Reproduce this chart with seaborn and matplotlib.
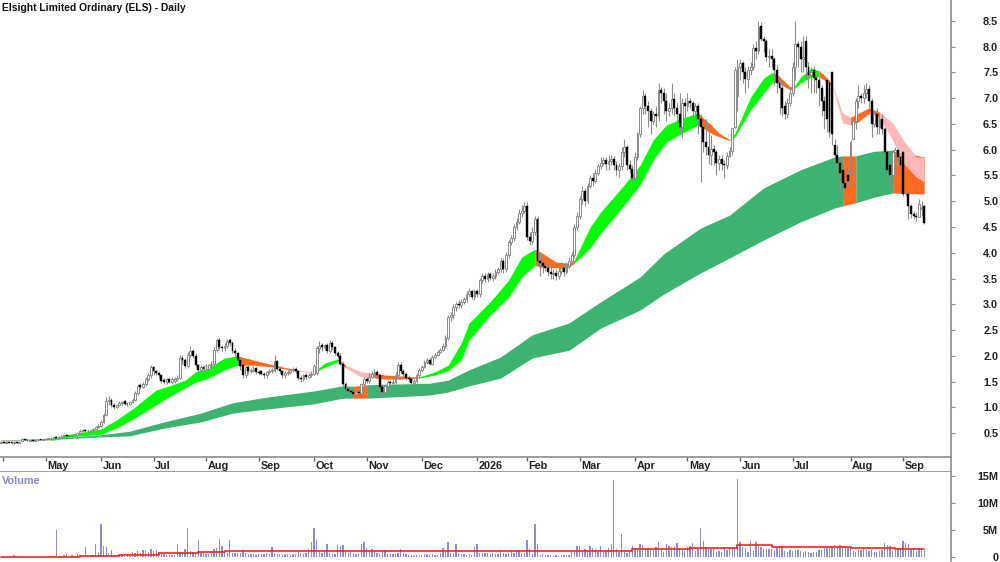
import numpy as np
import pandas as pd
import matplotlib
matplotlib.use("Agg")
import matplotlib.pyplot as plt
import seaborn as sns

opens = [
.32,.33,.32,.33,.33,.31,.33,.32,.34,.38, .37,.35,.36,.35,.36,.38,.37,.38,.39,.40,
.41,.43,.41,.43,.45,.46,.45,.44,.46,.47, .51,.54,.57,.55,.54,.56,.58,.62,.65,.72,
.86,1.12,1.15,1.05,1.00,1.04,1.08,1.12,1.07,1.06, 1.10,1.15,1.28,1.44,1.40,1.46,1.55,1.62,1.78,1.70,
1.66,1.62,1.54,1.50,1.55,1.50,1.52,1.56,1.58,1.96, 1.92,1.80,2.02,2.10,2.00,1.82,1.72,1.78,1.80,1.75,
1.82,1.85,2.12,2.30,2.18,2.15,2.20,2.30,2.25,2.10, 2.05,1.92,1.82,1.62,1.78,1.70,1.72,1.76,1.68,1.70,
1.65,1.62,1.68,1.70,1.72,1.90,1.75,1.70,1.62,1.66, 1.68,1.72,1.75,1.70,1.58,1.55,1.62,1.60,1.62,1.65,
1.66,2.15,2.22,2.18,2.22,2.10,2.25,2.18,2.05,2.00, 1.85,1.45,1.35,1.32,1.30,1.26,1.30,1.28,1.45,1.55,
1.52,1.60,1.65,1.68,1.62,1.40,1.30,1.42,1.50,1.48, 1.50,1.62,1.82,1.70,1.65,1.58,1.55,1.48,1.52,1.62,
1.72,1.78,1.88,1.92,1.85,1.98,2.02,2.08,2.12,2.20, 2.35,2.75,2.80,2.95,3.00,2.98,3.05,3.10,3.20,3.25,
3.15,3.25,3.20,3.48,3.55,3.50,3.58,3.52,3.55,3.62, 3.68,3.85,3.68,3.95,4.20,4.28,4.50,4.60,4.78,4.82,
4.90,4.30,4.22,4.40,4.65,3.85,3.80,3.75,3.70,3.62, 3.58,3.60,3.55,3.65,3.70,3.62,3.75,3.85,3.95,4.50,
4.72,5.05,5.20,5.00,5.30,5.45,5.40,5.55,5.68,5.75, 5.80,5.72,5.78,5.82,5.70,5.60,5.68,5.95,6.05,5.70,
5.62,5.45,5.85,6.30,6.80,7.05,6.85,6.75,6.55,6.70, 6.65,7.15,7.10,6.95,6.75,6.80,6.98,6.80,6.70,6.45,
6.90,6.85,6.95,6.90,6.75,6.85,6.60,6.45,6.15,6.05, 5.90,6.02,5.95,5.75,5.82,5.72,5.70,5.88,5.98,6.45,
7.05,7.60,7.68,7.50,7.38,7.55,7.60,7.97,7.92,8.40, 8.15,8.10,7.80,7.82,7.75,7.55,7.30,7.20,6.85,6.70,
6.90,7.10,7.60,8.05,8.00,7.75,8.10,7.60,7.45,7.55, 7.40,7.35,7.20,6.95,7.35,7.30,7.50,6.10,5.90,5.75,
5.60,5.35,5.50,5.50,6.20,6.55,6.95,7.05,7.00,7.10, 7.18,6.95,6.50,6.70,6.45,6.60,6.40,5.95,5.70,5.50,
5.95,6.00,5.85,5.95,5.15,5.15,4.90,4.75,4.72,4.70,4.85,4.90]
closes = [
.33,.32,.33,.32,.31,.33,.32,.33,.38,.37, .36,.36,.35,.36,.37,.37,.38,.39,.40,.41,
.42,.41,.43,.45,.46,.45,.44,.46,.47,.50, .55,.56,.55,.54,.56,.58,.62,.65,.72,.85,
1.12,1.15,1.05,1.00,1.04,1.08,1.10,1.07,1.06,1.10, 1.15,1.28,1.42,1.40,1.46,1.55,1.62,1.78,1.70,1.66,
1.62,1.52,1.50,1.55,1.50,1.55,1.56,1.58,1.95,1.92, 1.80,2.02,2.10,2.00,1.82,1.72,1.78,1.75,1.80,1.82,
1.85,2.12,2.30,2.18,2.15,2.20,2.28,2.25,2.10,2.05, 1.92,1.80,1.62,1.78,1.70,1.72,1.75,1.68,1.66,1.65,
1.62,1.68,1.70,1.72,1.90,1.75,1.70,1.62,1.66,1.68, 1.72,1.75,1.70,1.58,1.55,1.62,1.60,1.62,1.65,1.80,
2.15,2.20,2.18,2.22,2.10,2.25,2.18,2.05,2.00,1.85, 1.45,1.35,1.32,1.30,1.26,1.30,1.28,1.45,1.55,1.52,
1.60,1.65,1.68,1.62,1.40,1.30,1.42,1.50,1.48,1.50, 1.62,1.82,1.70,1.65,1.58,1.55,1.48,1.52,1.62,1.72,
1.78,1.88,1.92,1.85,1.98,2.02,2.08,2.12,2.20,2.35, 2.75,2.80,2.95,3.00,2.98,3.05,3.10,3.20,3.25,3.15,
3.25,3.20,3.48,3.55,3.50,3.58,3.52,3.55,3.62,3.68, 3.85,3.68,3.95,4.20,4.28,4.50,4.60,4.78,4.82,4.90,
4.30,4.22,4.40,4.65,3.85,3.80,3.75,3.70,3.62,3.58, 3.60,3.55,3.65,3.70,3.62,3.75,3.85,3.95,4.50,4.72,
5.05,5.20,5.00,5.30,5.45,5.40,5.55,5.68,5.75,5.80, 5.72,5.78,5.82,5.70,5.60,5.68,5.95,6.05,5.70,5.62,
5.45,5.85,6.30,6.80,7.05,6.85,6.75,6.55,6.70,6.65, 7.15,7.10,6.95,6.75,6.80,6.98,6.80,6.70,6.45,6.90,
6.85,6.95,6.90,6.75,6.85,6.60,6.45,6.15,6.05,5.90, 6.02,5.95,5.75,5.82,5.72,5.70,5.88,5.98,6.42,7.55,
7.60,7.68,7.50,7.38,7.55,7.60,7.97,7.92,8.38,8.15, 8.10,7.80,7.82,7.75,7.55,7.30,7.20,6.80,6.70,6.90,
7.10,7.60,8.05,8.00,7.75,7.80,7.60,7.45,7.50,7.40, 7.35,7.20,6.95,6.75,6.60,6.35,6.30,5.90,5.75,5.55,
5.35,5.25,5.40,6.15,6.55,6.95,7.05,7.00,7.10,7.18, 6.95,6.50,6.70,6.45,6.60,6.40,5.95,5.60,5.50,5.95,
6.00,5.85,5.70,5.15,5.15,4.90,4.75,4.72,4.70,4.95,4.88,4.58]
highs = [
.34,.34,.34,.34,.34,.34,.34,.34,.40,.40, .38,.37,.37,.37,.38,.39,.39,.40,.41,.42,
.43,.44,.44,.46,.47,.47,.46,.47,.49,.52, .58,.58,.58,.56,.57,.60,.64,.68,.75,.90,
1.20,1.22,1.18,1.08,1.07,1.12,1.13,1.14,1.10,1.13, 1.18,1.32,1.46,1.48,1.50,1.60,1.66,1.82,1.80,1.72,
1.68,1.65,1.58,1.58,1.58,1.60,1.60,1.62,2.02,2.02, 1.95,2.08,2.20,2.14,2.05,1.85,1.82,1.82,1.84,1.85,
1.90,2.18,2.35,2.34,2.22,2.25,2.32,2.34,2.28,2.15, 2.08,1.95,1.85,1.82,1.82,1.76,1.80,1.78,1.72,1.72,
1.68,1.70,1.74,1.76,2.02,1.92,1.80,1.72,1.70,1.72, 1.75,1.78,1.78,1.72,1.62,1.65,1.66,1.66,1.70,1.85,
2.20,2.28,2.26,2.24,2.26,2.30,2.28,2.20,2.10,2.05, 1.90,1.50,1.40,1.36,1.34,1.34,1.34,1.48,1.60,1.60,
1.66,1.70,1.74,1.72,1.65,1.45,1.46,1.54,1.54,1.55, 1.68,1.88,1.88,1.74,1.68,1.62,1.60,1.56,1.66,1.76,
1.82,1.92,1.96,1.96,2.02,2.06,2.12,2.16,2.25,2.40, 2.80,2.86,3.00,3.05,3.08,3.10,3.15,3.25,3.32,3.28,
3.30,3.30,3.52,3.60,3.60,3.62,3.62,3.60,3.68,3.72, 3.90,3.90,4.02,4.25,4.35,4.55,4.68,4.85,4.92,4.98,
4.98,4.40,4.50,4.72,4.72,4.00,3.95,3.85,3.80,3.72, 3.68,3.68,3.72,3.78,3.78,3.82,3.92,4.02,4.55,4.80,
5.10,5.30,5.26,5.36,5.50,5.55,5.62,5.72,5.85,5.85, 5.85,5.90,5.90,5.88,5.78,5.75,6.05,6.20,6.10,5.80,
5.70,5.95,6.35,6.85,7.15,7.10,6.95,6.80,6.75,6.85, 7.30,7.22,7.20,7.10,6.90,7.30,7.10,6.90,7.10,7.00,
7.00,7.10,7.00,6.95,6.90,6.90,6.70,6.50,6.60,6.40, 6.28,6.10,6.00,5.90,5.90,5.80,5.95,6.05,6.10,7.60,
7.75,7.75,7.72,7.60,7.62,7.70,8.05,8.10,8.50,8.48, 8.20,8.15,7.95,7.95,7.80,7.65,7.40,7.30,6.95,7.00,
7.20,7.70,8.50,8.10,8.10,8.20,8.20,7.70,7.60,7.62, 7.45,7.40,7.25,7.05,7.40,7.35,7.50,6.20,6.10,5.85,
5.70,5.50,5.60,6.18,6.60,7.00,7.25,7.10,7.25,7.30, 7.25,7.00,6.75,6.80,6.70,6.70,6.45,6.00,5.75,6.00,
6.05,6.02,5.90,5.98,5.20,5.18,4.95,4.82,4.80,5.05,5.00,4.92]
lows = [
.31,.31,.31,.31,.30,.30,.31,.31,.33,.36, .35,.34,.34,.34,.35,.36,.36,.37,.38,.39,
.40,.40,.40,.42,.44,.44,.43,.43,.45,.46, .50,.52,.53,.52,.52,.54,.56,.60,.63,.70,
.84,1.05,1.00,.97,.98,1.02,1.05,1.04,1.03,1.04, 1.08,1.12,1.25,1.36,1.38,1.42,1.52,1.58,1.62,1.62,
1.58,1.48,1.45,1.46,1.48,1.46,1.48,1.52,1.55,1.85, 1.76,1.76,1.98,1.96,1.78,1.68,1.68,1.70,1.72,1.72,
1.78,1.82,2.08,2.12,2.10,2.10,2.15,2.20,2.05,2.00, 1.88,1.72,1.58,1.58,1.65,1.66,1.68,1.64,1.62,1.62,
1.58,1.58,1.64,1.66,1.68,1.72,1.66,1.58,1.58,1.62, 1.65,1.68,1.66,1.54,1.50,1.52,1.56,1.58,1.60,1.62,
1.62,2.05,2.10,2.12,2.05,2.05,2.12,2.02,1.95,1.82, 1.42,1.30,1.28,1.22,1.22,1.24,1.18,1.26,1.42,1.48,
1.48,1.58,1.60,1.60,1.36,1.22,1.28,1.40,1.44,1.44, 1.46,1.58,1.66,1.60,1.54,1.50,1.44,1.44,1.48,1.58,
1.68,1.76,1.84,1.82,1.82,1.95,2.00,2.05,2.10,2.15, 2.30,2.68,2.72,2.88,2.92,2.92,3.00,3.05,3.15,3.10,
3.08,3.15,3.15,3.42,3.44,3.44,3.48,3.45,3.50,3.58, 3.62,3.60,3.62,3.90,4.15,4.22,4.45,4.55,4.70,4.78,
4.25,4.15,4.18,4.35,3.75,3.55,3.60,3.65,3.55,3.50, 3.50,3.48,3.50,3.58,3.55,3.58,3.70,3.80,3.90,4.45,
4.65,4.95,4.90,4.95,5.25,5.30,5.35,5.50,5.62,5.70, 5.60,5.60,5.70,5.60,5.50,5.48,5.60,5.85,5.60,5.55,
5.40,5.40,5.80,6.25,6.70,6.70,6.45,6.30,6.50,6.45, 6.55,6.90,6.70,6.55,6.65,6.70,6.65,6.50,6.35,6.22,
6.60,6.75,6.80,6.50,6.60,6.30,5.38,5.95,5.90,5.72, 5.70,5.70,5.50,5.60,5.60,5.45,5.62,5.85,5.90,6.42,
6.75,7.35,7.30,7.10,7.20,7.45,7.55,7.75,7.85,8.10, 7.90,7.72,7.60,7.60,7.25,7.10,6.70,6.65,6.60,6.62,
6.85,7.05,7.35,7.60,7.50,7.50,7.40,7.20,7.10,7.10, 7.10,6.85,6.65,6.40,6.35,6.25,6.10,5.60,5.50,5.20,
5.05,5.15,5.30,5.35,6.20,6.40,6.80,6.90,6.90,7.00, 6.80,6.25,6.45,6.30,6.30,6.30,5.85,5.50,5.25,5.35,
5.75,5.70,5.45,5.10,5.10,4.65,4.68,4.65,4.62,4.70,4.72,4.55]
volume = [
.1,.15,.1,.05,.2,.5,.2,.1,.1,.1, .1,.05,.1,.1,.05,.1,.15,.1,.1,.2,
.3,5.0,.3,.2,.4,.6,.3,.5,.3,.6, .4,.3,1.9,.4,.3,.5,2.5,.8,6.2,2.1,
1.9,.8,1.4,.5,.4,.5,.3,.4,.4,.3, 1.0,.8,1.2,.9,1.3,1.4,1.1,1.5,1.2,1.4,
1.0,.8,.7,.5,.6,.4,.5,2.5,1.1,1.0, 1.5,5.4,1.2,1.0,.9,3.2,.9,.8,.7,.7,
.8,1.5,1.8,3.5,2.2,1.0,.8,3.2,.9,.8, .9,.8,1.3,.8,.7,.7,.6,.5,.6,.6,
.7,.9,.6,2.0,.8,.7,.6,.5,.7,.6, .5,.7,.6,1.2,.8,.7,.8,1.5,2.9,5.5,
3.3,1.0,.9,1.4,2.5,.9,.7,.6,2.3,2.2, 2.3,1.3,.9,1.0,.8,.7,.6,2.5,2.8,1.8,
1.2,1.5,1.4,.9,.7,1.0,1.3,.7,.6,.6, .7,.8,1.5,.8,.6,.5,.4,.3,.4,.4,
.4,.6,.7,.5,.6,.4,.5,.8,1.7,1.0, 2.8,.9,.7,2.5,.8,.6,.6,.5,.6,.5,
2.0,2.5,.8,.8,.9,.9,.7,.9,.6,.7, 1.3,.8,.7,.8,1.3,.9,1.2,1.2,.6,.8,
3.3,1.5,.7,6.2,2.5,.5,.6,.4,.5,.4, .3,.5,.3,.5,.4,.4,.5,1.0,1.0,2.1,
2.1,1.0,1.5,1.2,2.1,1.8,1.5,1.0,2.1,1.1, 1.2,1.8,2.5,14.3,1.5,1.0,4.3,1.1,.9,1.2,
2.1,1.8,1.6,2.5,2.4,1.8,1.7,1.6,1.4,1.9, 2.9,1.5,1.1,2.5,2.2,2.0,2.0,2.7,1.6,1.4,
1.2,2.0,2.1,2.6,1.2,1.6,5.5,3.0,1.9,1.8, 1.5,1.6,1.1,1.2,1.0,1.7,1.3,1.9,2.0,1.7,
14.5,2.8,2.0,1.7,1.0,3.0,1.2,2.8,2.2,2.0, 1.6,1.5,1.5,1.6,1.2,2.0,2.2,2.2,1.2,1.1,
1.3,1.2,1.3,1.4,1.2,1.1,1.2,1.0,.9,1.1, 1.1,1.4,1.4,1.8,1.8,2.0,2.2,2.4,2.0,2.4,
2.2,2.2,1.8,2.0,1.2,1.1,1.4,1.4,1.5,1.3, 1.2,1.4,1.0,1.1,1.2,1.4,2.6,2.3,2.2,1.2,
1.4,1.8,1.6,3.0,2.7,2.5,1.5,1.3,1.2,1.8,1.6,1.4]

avg_bars = [0,15,30,45,60,75,85,100,130,160,190,215,240,262,280,293,307,323,340,351]
avg_vals = [.05,.1,.35,.55,.8,1.0,1.15,1.2,1.25,1.2,1.2,1.2,1.55,1.75,2.3,2.0,1.85,1.8,1.55,1.5]

short_bars = [0,7,19,26,38,44,51,59,63,70,74,79,85,90,96,104,112,119,123,128,131,137,142,146,152,159,165,170,175,178,186,193,198,203,205,211,216,218,224,228,237,243,248,253,259,265,270,273,277,279,285,290,293,295,300,302,304,308,311,313,316,320,323,326,330,334,339,343,348,351]
short_top = [.37,.37,.38,.48,.58,.76,1.01,1.34,1.40,1.53,1.69,1.77,1.96,2.00,1.92,1.82,1.73,1.69,1.86,1.94,1.82,1.69,1.67,1.63,1.61,1.59,1.69,1.82,2.25,2.64,3.05,3.47,3.92,4.07,4.02,3.82,3.80,3.86,4.50,4.79,5.32,5.70,6.19,6.48,6.61,6.71,6.48,6.32,6.20,6.32,7.02,7.39,7.49,7.47,7.22,7.26,7.41,7.58,7.53,7.45,7.26,6.71,6.63,6.71,6.81,6.73,6.52,6.19,5.86,5.86]
short_bot = [.35,.36,.36,.43,.48,.60,.80,1.05,1.18,1.38,1.49,1.57,1.73,1.82,1.82,1.78,1.71,1.67,1.78,1.88,1.77,1.59,1.57,1.55,1.55,1.57,1.63,1.71,1.92,2.31,2.79,3.14,3.53,3.76,3.72,3.71,3.72,3.80,4.09,4.38,4.93,5.32,5.80,6.15,6.32,6.48,6.32,6.25,6.18,6.25,6.77,7.10,7.29,7.31,7.16,7.20,7.29,7.41,7.41,7.35,7.24,6.52,6.48,6.54,6.71,6.63,6.19,5.74,5.47,5.37]
short_state = list("ppggggggggggg" "ooop" "gg" "o" "pp" "ooo" "gggggggg" "oooo" "gggggggg" "ooo" "ggggg" "oo" "ggg" "oo" "pp" "ooo" "ppppp")

long_bars = [0,19,38,49,62,76,88,101,119,130,134,139,163,170,178,190,202,216,228,243,252,266,277,290,304,317,320,325,332,339,351]
long_top = [.37,.40,.47,.54,.72,.89,1.09,1.20,1.32,1.42,1.41,1.44,1.47,1.53,1.73,1.98,2.41,2.64,3.05,3.53,3.98,4.48,4.73,5.26,5.61,5.86,5.88,5.88,5.97,5.99,5.86]
long_bot = [.35,.38,.43,.45,.60,.72,.89,.97,1.07,1.18,1.18,1.18,1.24,1.30,1.42,1.57,1.96,2.11,2.54,2.89,3.20,3.61,3.90,4.25,4.60,4.87,4.91,4.97,5.08,5.16,5.14]
long_state = list("gggggggggg" "o" "ggggggggggggggg" "o" "gg" "oo")

month_bars = [0.8,17,38,58,78,98,119,139,160,181,200,220,241,261,281,301,323,343]
month_labels = ["","May","Jun","Jul","Aug","Sep","Oct","Nov","Dec","2026","Feb","Mar","Apr","May","Jun","Jul","Aug","Sep"]
price_ticks = [0.5,1.0,1.5,2.0,2.5,3.0,3.5,4.0,4.5,5.0,5.5,6.0,6.5,7.0,7.5,8.0,8.5]
vol_ticks = [0,5,10,15]
vol_labels = ["0","5M","10M","15M"]

sns.set_theme(style="white")
plt.rcParams["font.family"] = ["Liberation Sans", "DejaVu Sans"]
W, H = 1000, 562
fig = plt.figure(figsize=(W/100, H/100), dpi=100, facecolor="white")
def axes_px(x0, y0, x1, y1):
    return fig.add_axes([x0/W, 1-y1/H, (x1-x0)/W, (y1-y0)/H])
ax = axes_px(0, 0, 951, 457)
adate = axes_px(0, 457, 951, 472)
avol = axes_px(0, 472, 951, 561)
GREY = "#8c8c8c"
XLIM = (-0.38, 361.2)
COL = {"g": "#00FF00", "o": "#FF6A20", "p": "#FFB8B8"}

def ribbon(a, bars, top, bot, states, cmap, z):
    n = len(states)
    k = 0
    while k < n:
        m = k
        while m + 1 < n and states[m+1] == states[k]:
            m += 1
        a.fill_between(bars[k:m+2], top[k:m+2], bot[k:m+2], color=cmap[states[k]], lw=0, zorder=z)
        k = m + 1

ribbon(ax, long_bars, long_top, long_bot, long_state, {"g": "#3CB371", "o": COL["o"]}, 1)
ribbon(ax, short_bars, short_top, short_bot, short_state, COL, 2)

idx = np.arange(len(closes))
o, c, h, l = map(np.array, (opens, closes, highs, lows))
up = c >= o
ax.vlines(idx, l, h, color="#8e8e8e", lw=0.8, zorder=3)
ax.bar(idx[up], (c-o)[up], bottom=o[up], width=0.7, facecolor="white", edgecolor="#8a8a8a", lw=0.7, zorder=4)
ax.bar(idx[~up], (c-o)[~up], bottom=o[~up], width=0.72, facecolor="black", edgecolor="black", lw=0.3, zorder=4)

ax.set_xlim(*XLIM); ax.set_ylim(0.039, 8.904)
ax.yaxis.tick_right()
ax.set_yticks(price_ticks, [f"{v:.1f}" for v in price_ticks], ha="right", fontsize=7.8, color="#222222", fontweight="bold")
ax.tick_params(axis="y", length=3, width=0.8, color=GREY, pad=31)
ax.set_xticks([])
for s in ("top", "left", "bottom"):
    ax.spines[s].set_visible(False)
ax.spines["right"].set_color(GREY); ax.spines["right"].set_linewidth(1.2)
ax.text(2/951, 1-8/457, "Elsight Limited Ordinary (ELS) - Daily", transform=ax.transAxes,
        fontsize=7.4, color="#111111", va="center", ha="left", fontweight="bold")

adate.set_xlim(*XLIM); adate.set_ylim(0, 1)
adate.set_yticks([])
adate.xaxis.tick_top()
adate.set_xticks(month_bars, [""]*len(month_bars))
adate.tick_params(axis="x", length=3, width=1, color="#666666", direction="in", top=True, bottom=False)
for b, t in zip(month_bars, month_labels):
    adate.text(b+0.6, 0.42, t, fontsize=7.8, color="#222222", va="center", ha="left", fontweight="bold")
adate.spines["left"].set_visible(False)
adate.spines["right"].set_color(GREY); adate.spines["right"].set_linewidth(1.2)
adate.spines["top"].set_color(GREY); adate.spines["top"].set_linewidth(1.2)
adate.spines["bottom"].set_color(GREY); adate.spines["bottom"].set_linewidth(1.2)

sns.barplot(x=idx, y=volume, native_scale=True, width=0.5, color="#8C8CD0", saturation=1,
            edgecolor="none", linewidth=0, ax=avol, zorder=2)
sns.lineplot(x=avg_bars, y=avg_vals, drawstyle="steps-post", color="#FF2020", lw=1.2, ax=avol, zorder=3, errorbar=None)
avol.set_xlim(*XLIM); avol.set_ylim(-0.65, 15.83)
avol.set_xticks([]); avol.set_xlabel(""); avol.set_ylabel("")
avol.yaxis.tick_right()
avol.set_yticks(vol_ticks, vol_labels, ha="right", fontsize=7.8, color="#222222", fontweight="bold")
avol.tick_params(axis="y", length=3, width=0.8, color=GREY, pad=31)
for s in ("top", "left", "bottom"):
    avol.spines[s].set_visible(False)
avol.spines["right"].set_color(GREY); avol.spines["right"].set_linewidth(1.2)
avol.text(2/951, 1-8.5/89, "Volume", transform=avol.transAxes, fontsize=7.8, color="#8A8AC4",
          fontweight="bold", va="center", ha="left")

fig.savefig("out.png", dpi=100, facecolor="white")
